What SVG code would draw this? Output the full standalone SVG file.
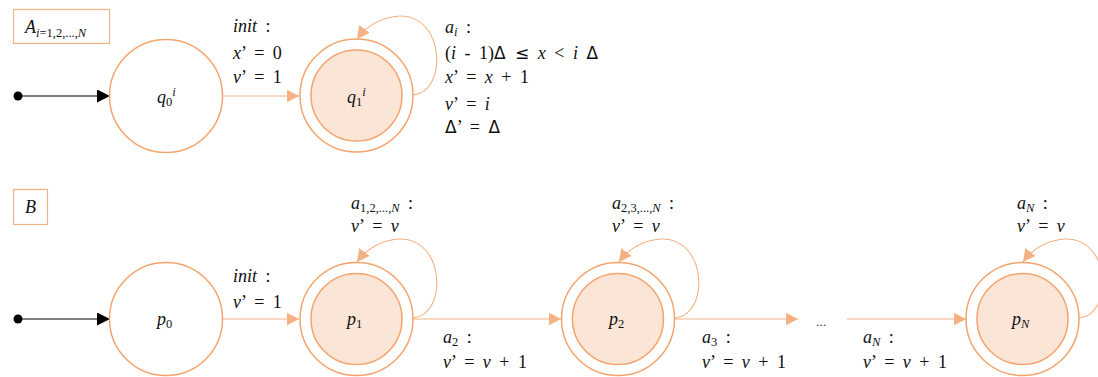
<svg xmlns="http://www.w3.org/2000/svg" width="1098" height="377" viewBox="0 0 1098 377">
<style>
text{font-family:"Liberation Serif","DejaVu Serif",serif;font-size:18px;fill:#111;word-spacing:4px}
.i{font-style:italic}
.s{font-size:12.5px}
.d{font-family:"DejaVu Sans",sans-serif;font-size:17px}
.st{fill:#fff;stroke:#f3a46d;stroke-width:1.5}
.acc{fill:#fff;stroke:#f3a46d;stroke-width:1.5}
.in{fill:#fbe5d6;stroke:#f3a46d;stroke-width:1.5}
.box{fill:#fff;stroke:#f4b183;stroke-width:1.2}
.e{fill:none;stroke:#f4b183;stroke-width:1.1}
.k{fill:none;stroke:#000;stroke-width:1.1}
</style>
<defs>
<marker id="ao" markerUnits="userSpaceOnUse" markerWidth="13" markerHeight="13" refX="12.5" refY="6.5" orient="auto"><path d="M0,0 L12.5,6.5 L0,13 z" fill="#f4b183"/></marker>
<marker id="ak" markerUnits="userSpaceOnUse" markerWidth="13" markerHeight="13" refX="13" refY="6.5" orient="auto"><path d="M0,0 L13,6.5 L0,13 z" fill="#000"/></marker>
</defs>

<g id="labelA"><rect class="box" x="13.5" y="9.5" width="96" height="34"/>
<text x="25" y="33"><tspan class="i">A</tspan><tspan class="s i" dy="4">i</tspan><tspan class="s" style="word-spacing:0">=1,2,...,</tspan><tspan class="s i">N</tspan></text></g>
<g id="labelB"><rect class="box" x="13.5" y="189.5" width="34" height="35"/>
<text x="25" y="213" class="i">B</text></g>

<g id="connectors">
<circle cx="18" cy="96" r="4.5" fill="#000"/>
<path class="k" d="M18 96 L110 96" marker-end="url(#ak)"/>
<path class="e" d="M223 96 L299 96" marker-end="url(#ao)"/>
<path class="e" d="M413 95 C448 92 445 15 400 16 C380 17 366 27 357 39" marker-end="url(#ao)"/>
<circle cx="18" cy="319" r="4.5" fill="#000"/>
<path class="k" d="M18 319 L110 319" marker-end="url(#ak)"/>
<path class="e" d="M223 319 L299 319" marker-end="url(#ao)"/>
<path class="e" d="M413 319 L561 319" marker-end="url(#ao)"/>
<path class="e" d="M675 319 L798 319" marker-end="url(#ao)"/>
<path class="e" d="M847 319 L966 319" marker-end="url(#ao)"/>
<path class="e" d="M413 318 C448 315 445 238 400 239 C380 240 366 250 357 262" marker-end="url(#ao)"/>
<path class="e" d="M675 318 C710 315 707 238 662 239 C642 240 628 250 619 262" marker-end="url(#ao)"/>
<path class="e" d="M1079 318 C1114 315 1111 238 1066 239 C1046 240 1032 250 1023 262" marker-end="url(#ao)"/>
</g>

<g id="q0"><circle class="st" cx="166" cy="96" r="56.5"/>
<text x="157" y="103"><tspan class="i">q</tspan><tspan class="s" dy="3">0</tspan><tspan class="s i" dy="-10">i</tspan></text></g>
<g id="q1"><circle class="acc" cx="356.5" cy="95.5" r="56.5"/><circle class="in" cx="356.5" cy="95.5" r="45.5"/>
<text x="347" y="103"><tspan class="i">q</tspan><tspan class="s" dy="3">1</tspan><tspan class="s i" dy="-10">i</tspan></text></g>

<g id="p0"><circle class="st" cx="166" cy="319" r="56.5"/>
<text x="157" y="325"><tspan class="i">p</tspan><tspan class="s" dy="3">0</tspan></text></g>
<g id="p1"><circle class="acc" cx="356.5" cy="319" r="56.5"/><circle class="in" cx="356.5" cy="319" r="45.5"/>
<text x="347" y="325"><tspan class="i">p</tspan><tspan class="s" dy="3">1</tspan></text></g>
<g id="p2"><circle class="acc" cx="618" cy="319" r="56.5"/><circle class="in" cx="618" cy="319" r="45.5"/>
<text x="609" y="325"><tspan class="i">p</tspan><tspan class="s" dy="3">2</tspan></text></g>
<g id="dots"><text x="816" y="326" style="font-family:'DejaVu Sans',sans-serif;font-size:11px">...</text></g>
<g id="pN"><circle class="acc" cx="1022.5" cy="319" r="56.5"/><circle class="in" cx="1022.5" cy="319" r="45.5"/>
<text x="1012" y="325"><tspan class="i">p</tspan><tspan class="s i" dy="3">N</tspan></text></g>

<g id="edge-labels">
<text x="233" y="32"><tspan class="i">init</tspan> :</text>
<text x="233" y="59"><tspan class="i">x</tspan>’ = 0</text>
<text x="233" y="83"><tspan class="i">v</tspan>’ = 1</text>

<text x="445" y="33"><tspan class="i">a</tspan><tspan class="s i" dy="3">i</tspan><tspan dy="-3"> :</tspan></text>
<text x="445" y="59">(<tspan class="i">i</tspan> - 1)<tspan class="d">Δ ≤</tspan> <tspan class="i">x</tspan> &lt; <tspan class="i">i</tspan> <tspan class="d">Δ</tspan></text>
<text x="445" y="83"><tspan class="i">x</tspan>’ = <tspan class="i">x</tspan> + 1</text>
<text x="445" y="110"><tspan class="i">v</tspan>’ = <tspan class="i">i</tspan></text>
<text x="445" y="133"><tspan class="d">Δ</tspan>’ = <tspan class="d">Δ</tspan></text>

<text x="233" y="282"><tspan class="i">init</tspan> :</text>
<text x="233" y="308"><tspan class="i">v</tspan>’ = 1</text>

<text x="351" y="209"><tspan class="i">a</tspan><tspan class="s" dy="3" style="word-spacing:0">1,2,...,<tspan class="i">N</tspan></tspan><tspan dy="-3"> :</tspan></text>
<text x="351" y="232"><tspan class="i">v</tspan>’ = <tspan class="i">v</tspan></text>
<text x="612" y="209"><tspan class="i">a</tspan><tspan class="s" dy="3" style="word-spacing:0">2,3,...,<tspan class="i">N</tspan></tspan><tspan dy="-3"> :</tspan></text>
<text x="612" y="232"><tspan class="i">v</tspan>’ = <tspan class="i">v</tspan></text>
<text x="1017" y="209"><tspan class="i">a</tspan><tspan class="s i" dy="3">N</tspan><tspan dy="-3"> :</tspan></text>
<text x="1017" y="232"><tspan class="i">v</tspan>’ = <tspan class="i">v</tspan></text>

<text x="443" y="343"><tspan class="i">a</tspan><tspan class="s" dy="3">2</tspan><tspan dy="-3"> :</tspan></text>
<text x="443" y="368"><tspan class="i">v</tspan>’ = <tspan class="i">v</tspan> + 1</text>
<text x="702" y="343"><tspan class="i">a</tspan><tspan class="s" dy="3">3</tspan><tspan dy="-3"> :</tspan></text>
<text x="702" y="368"><tspan class="i">v</tspan>’ = <tspan class="i">v</tspan> + 1</text>
<text x="863" y="343"><tspan class="i">a</tspan><tspan class="s i" dy="3">N</tspan><tspan dy="-3"> :</tspan></text>
<text x="863" y="368"><tspan class="i">v</tspan>’ = <tspan class="i">v</tspan> + 1</text>
</g>
</svg>
